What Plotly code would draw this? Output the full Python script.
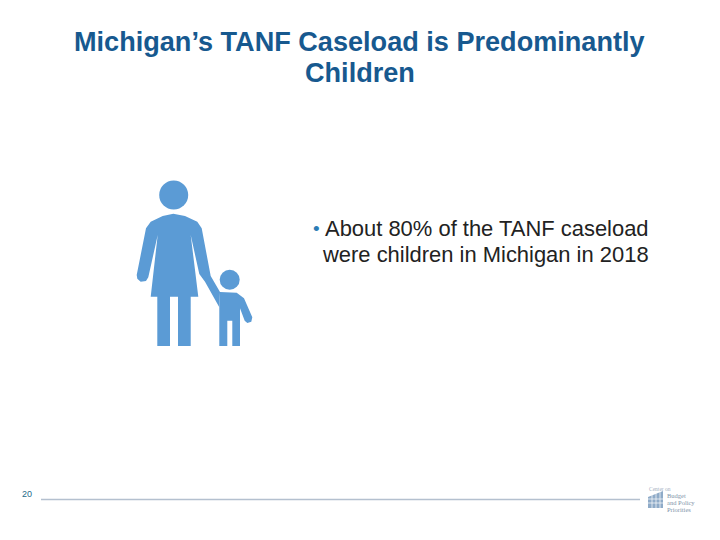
import plotly.graph_objects as go

TITLE_LINES = ["Michigan’s TANF Caseload is Predominantly", "Children"]
BULLET_MARK = "•"
BULLET_LINES = ["About 80% of the TANF caseload", "were children in Michigan in 2018"]
PAGE_NUMBER = "20"
LOGO_LINES = ["Center on", "Budget", "and Policy", "Priorities"]

BLUE = "#5b9bd5"
TITLE_COLOR = "#17598f"

# icon outlines traced in a 3x enlarged crop
WOMAN = [(128,138),(160,131),(195,138),(232,155),(245,175),(272,318),(300,366),(298,412),(255,335),(238,312),
         (212,195),(235,380),(212,380),(212,528),(174,528),(174,380),(150,380),(150,528),(112,528),(112,380),
         (92,380),(113,195),(85,322),(78,333),(62,335),(52,326),(50,315),(78,175),(92,155)]
CHILD = [(300,366),(350,368),(372,385),(397,442),(394,455),(382,459),(374,452),(360,415),(360,528),(337,528),
         (337,452),(322,452),(322,528),(298,528),(298,410)]
LOGO_MARK = [(648,508),(648,497),(663,491),(663,508)]
LOGO_STRIPES_X = [652, 656, 660]
LOGO_STRIPES_Y = [499, 503]

def to_px(p):
    return 120 + p[0] / 3, 170 + p[1] / 3

def path(pts):
    return "M" + " L".join(f"{x:.1f},{y:.1f}" for x, y in pts) + " Z"

def circle(cx, cy, r):
    return dict(type="circle", xref="x", yref="y", x0=cx-r, x1=cx+r, y0=cy-r, y1=cy+r,
                fillcolor=BLUE, line_width=0, layer="above")

fig = go.Figure()
shapes = [
    circle(173.7, 195, 14.5),
    circle(229.7, 279.7, 10),
    dict(type="path", path=path([to_px(p) for p in WOMAN]), fillcolor=BLUE, line_width=0),
    dict(type="path", path=path([to_px(p) for p in CHILD]), fillcolor=BLUE, line_width=0),
    dict(type="line", x0=41, x1=640, y0=499.5, y1=499.5, line=dict(color="#b4c0cf", width=1.5)),
    dict(type="path", path=path(LOGO_MARK), fillcolor="#8fabc8", line_width=0),
]
for x in LOGO_STRIPES_X:
    shapes.append(dict(type="line", x0=x, x1=x, y0=490, y1=508, line=dict(color="white", width=0.7)))
for y in LOGO_STRIPES_Y:
    shapes.append(dict(type="line", x0=648, x1=663, y0=y, y1=y, line=dict(color="white", width=0.7)))

ann = []
def add_text(x, y, s, size, anchor="left", color="#222222", family="Liberation Sans"):
    ann.append(dict(x=x, y=y, text=s, showarrow=False, xanchor=anchor, yanchor="middle",
                    xref="x", yref="y", font=dict(size=size, color=color, family=family)))

add_text(359.5, 41, "<b>" + TITLE_LINES[0] + "</b>", 27.1, "center", TITLE_COLOR)
add_text(359.5, 72.5, "<b>" + TITLE_LINES[1] + "</b>", 27.1, "center", TITLE_COLOR)
add_text(311, 228, BULLET_MARK, 19, "left", "#2b7cb5")
add_text(323, 228, BULLET_LINES[0], 21.95, "left")
add_text(320, 254, BULLET_LINES[1], 21.95, "left")
add_text(27, 494, PAGE_NUMBER, 9, "center", "#1f6a8a")
add_text(647, 489, LOGO_LINES[0], 5.5, "left", "#9fb0c0", "Liberation Serif")
add_text(665, 495, LOGO_LINES[1], 6.5, "left", "#7f95aa", "Liberation Serif")
add_text(665, 502, LOGO_LINES[2], 6.5, "left", "#7f95aa", "Liberation Serif")
add_text(665, 509, LOGO_LINES[3], 6.5, "left", "#7f95aa", "Liberation Serif")

fig.update_layout(
    width=720, height=540, margin=dict(l=0, r=0, t=0, b=0),
    paper_bgcolor="white", plot_bgcolor="white", showlegend=False,
    shapes=shapes, annotations=ann,
    xaxis=dict(range=[0, 720], visible=False, fixedrange=True),
    yaxis=dict(range=[540, 0], visible=False, fixedrange=True),
)
fig.write_html("out.html", config=dict(displayModeBar=False),
               post_script="document.body.style.margin='0';")
